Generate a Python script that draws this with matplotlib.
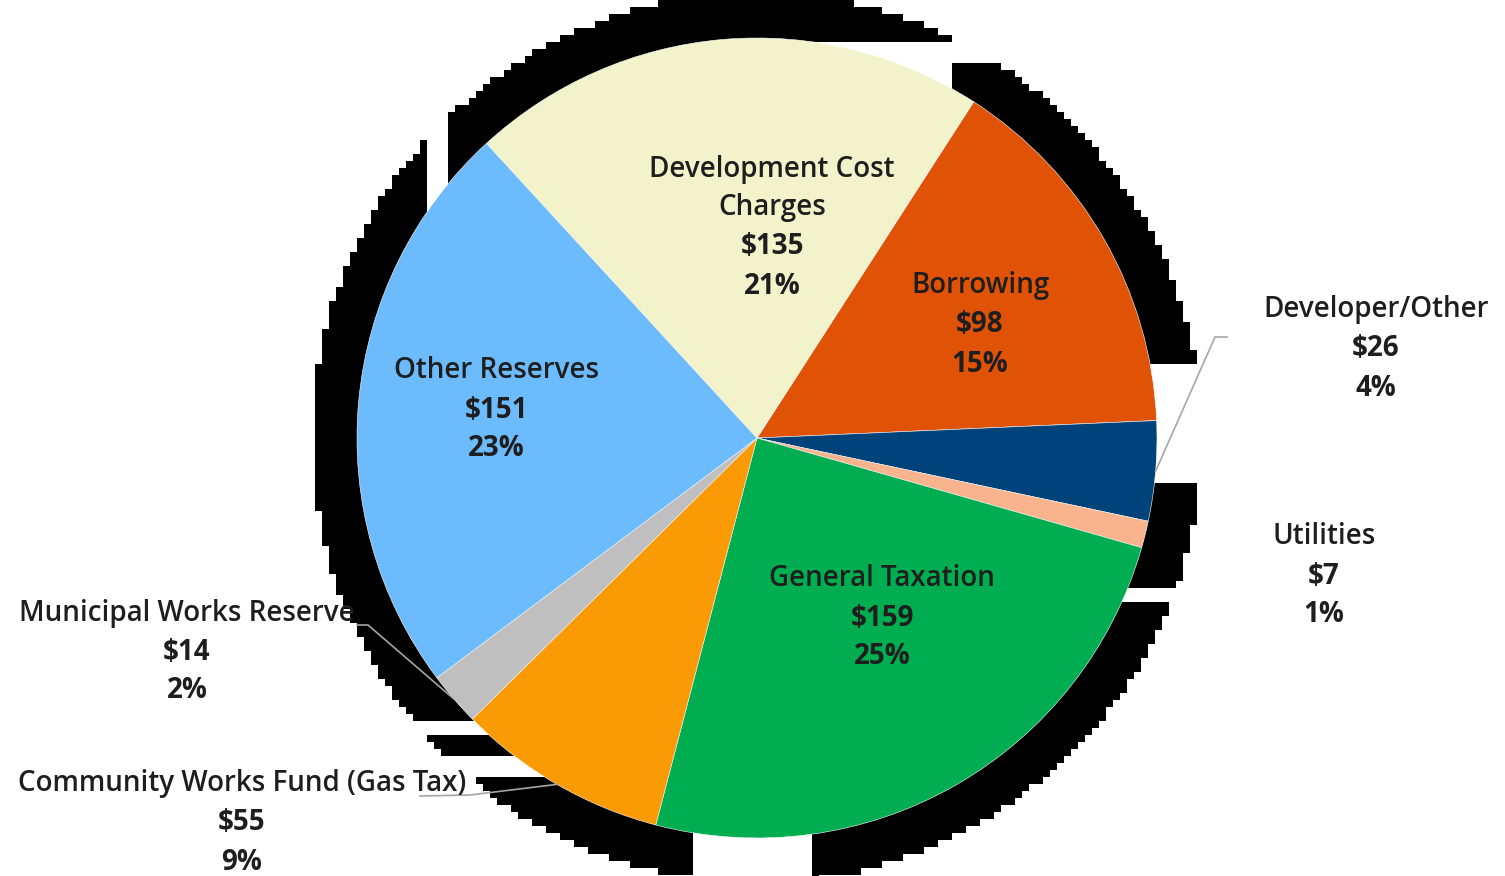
import matplotlib.pyplot as plt
import numpy as np

# Capital funding sources ($ millions), clockwise from the top-right
sources = ['Borrowing', 'Developer/Other', 'Utilities', 'General Taxation',
           'Community Works Fund (Gas Tax)', 'Municipal Works Reserve',
           'Other Reserves', 'Development Cost\nCharges']
amounts = [98, 26, 7, 159, 55, 14, 151, 135]
colors = ['#E05206', '#00437A', '#F9B48E', '#00AD50',
          '#FA9A04', '#BFBFBF', '#6CBBFC', '#F2F3CB']

# label anchor (centre x, first line y) in pixels, y measured from the top
label_xy = [(980, 283), (1376, 307), (1324, 534), (882, 576),
            (242, 781), (187, 610), (496, 368), (772, 166)]
# elbow of leader lines for outside labels (None = no line)
leader_ends = [None, [(1227, 337), (1215, 337)], None, None,
               [(420, 796), (470, 795)], [(357, 625), (368, 625)], None, None]

W, H = 1505, 876
cx, cy, R = 757, 438, 400

fig = plt.figure(figsize=(W / 100, H / 100), dpi=100)
ax = fig.add_axes([0, 0, 1, 1])

# pixelated black "shadow" behind the pie
cell = 7
xs = np.arange(0, W, cell) + cell / 2
ys = np.arange(0, H, cell) + cell / 2
X, Y = np.meshgrid(xs, ys)
shadow = (X - cx) ** 2 + (Y - cy) ** 2 <= 445 ** 2
cutouts = [(780, 1010, 44, 64), (780, 950, 64, 90), (1150, 1300, 367, 483),
           (1090, 1300, 585, 605), (692, 814, 780, 900), (0, 600, 718, 738),
           (0, 600, 755, 777), (427, 450, 0, 215)]
for x0, x1, y0, y1 in cutouts:
    shadow[(X >= x0) & (X < x1) & (Y >= y0) & (Y < y1)] = False
img = np.zeros(shadow.shape + (4,))
img[..., 3] = shadow.astype(float)
ax.imshow(img, extent=(0, len(xs) * cell, H - len(ys) * cell, H),
          origin='upper', interpolation='nearest', zorder=1)

wedges, _ = ax.pie(amounts, colors=colors, startangle=57.2, counterclock=False,
                   radius=R, center=(cx, H - cy),
                   wedgeprops=dict(edgecolor='white', linewidth=0.4))
for w in wedges:
    w.set_zorder(2)

total = sum(amounts)
font = dict(family=['Open Sans', 'DejaVu Sans'], fontsize=20, color='#1E1E1E',
            ha='center', va='center', zorder=5)
pitch = 39
for w, name, amt, (lx, ly), lead in zip(wedges, sources, amounts, label_xy, leader_ends):
    names = name.split('\n')
    lines = names + [f'${amt}', f'{round(100 * amt / total)}%']
    for i, line in enumerate(lines):
        weight = 'semibold' if i < len(names) else 'bold'
        ax.text(lx, H - (ly + 3 + i * pitch), line, fontweight=weight, **font)
    if lead is not None:
        mid = np.deg2rad((w.theta1 + w.theta2) / 2)
        px = cx + R * np.cos(mid)
        py = H - cy + R * np.sin(mid)
        xs_l = [lead[0][0], lead[1][0], px]
        ys_l = [H - lead[0][1], H - lead[1][1], py]
        ax.plot(xs_l, ys_l, color='#A6A6A6', lw=1.2, zorder=4)

ax.set_xlim(0, W)
ax.set_ylim(0, H)
ax.set_aspect('auto')
ax.axis('off')
fig.savefig('out.png', dpi=100, facecolor='white')
